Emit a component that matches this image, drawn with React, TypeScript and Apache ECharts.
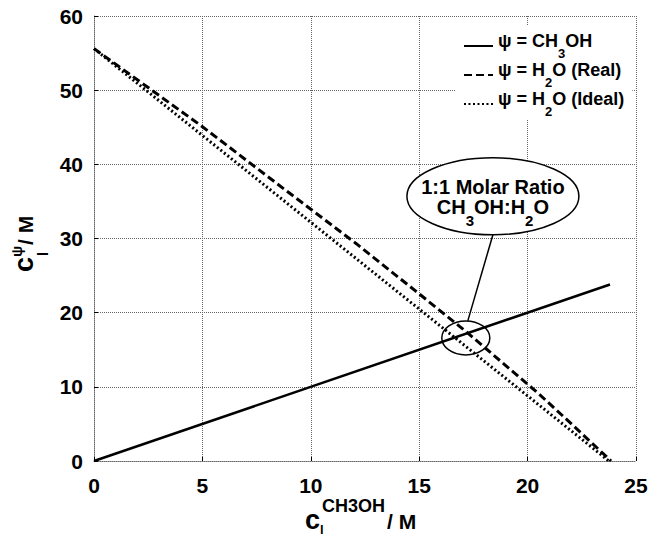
import React, { useEffect, useRef } from 'react';
import * as echarts from 'echarts';

const FONT = '"Liberation Sans", Arial, Helvetica, sans-serif';

// axis ticks
const xTicks = [0, 5, 10, 15, 20, 25];
const yTicks = [0, 10, 20, 30, 40, 50, 60];

// series values (concentrations in M)
const methanolX = [0, 23.8];
const methanolY = [0, 23.8];
const waterRealX = [0, 4.9, 8.8, 12.1, 14.8, 17.1, 18.9, 20.5, 21.8, 22.9, 23.85];
const waterRealY = [55.6, 45.3, 36.6, 29.3, 23.0, 17.6, 13.1, 9.1, 5.6, 2.6, 0];
const waterIdealX = [0, 23.75];
const waterIdealY = [55.6, 0];

const seriesNames = ['CH3OH', 'H2O (Real)', 'H2O (Ideal)'];
const legendLabels: Record<string, string> = {
  'CH3OH': '{t|ψ = CH}{s|3}{t|OH}',
  'H2O (Real)': '{t|ψ = H}{s|2}{t|O (Real)}',
  'H2O (Ideal)': '{t|ψ = H}{s|2}{t|O (Ideal)}',
};
// annotation anchors (data coordinates)
const ratioPoint = [17.15, 16.6];
const calloutPoint = [18.4, 35.7];

const zip = (xs: number[], ys: number[]) => xs.map((x, i) => [x, ys[i]]);

export default function App() {
  const ref = useRef<HTMLDivElement>(null);
  useEffect(() => {
    if (!ref.current) return;
    const chart = echarts.init(ref.current, null, { renderer: 'svg' });
    const gridStyle = { color: '#666', type: [1, 1] as number[], width: 1 };
    const axisLabel = { color: '#000', fontSize: 21, fontWeight: 'bold' as const, fontFamily: FONT };
    chart.setOption({
      animation: false,
      grid: { left: 94, right: 22, top: 16, bottom: 75 },
      xAxis: {
        type: 'value', min: xTicks[0], max: xTicks[xTicks.length - 1], interval: 5,
        axisLine: { lineStyle: gridStyle },
        axisTick: { inside: true, length: 4, lineStyle: { color: '#000' } },
        splitLine: { show: true, lineStyle: gridStyle },
        axisLabel: { ...axisLabel, margin: 14 },
      },
      yAxis: {
        type: 'value', min: yTicks[0], max: yTicks[yTicks.length - 1], interval: 10,
        axisLine: { show: true, lineStyle: gridStyle },
        axisTick: { show: true, inside: true, length: 4, lineStyle: { color: '#000' } },
        splitLine: { show: true, lineStyle: gridStyle },
        axisLabel: { ...axisLabel, margin: 11 },
      },
      legend: {
        orient: 'vertical', left: 455, top: 26, itemWidth: 29, itemHeight: 14, itemGap: 1,
        backgroundColor: '#fff', padding: [6, 8, 2, 8],
        data: seriesNames,
        itemStyle: { opacity: 0 },
        formatter: (n: string) => legendLabels[n],
        textStyle: {
          rich: {
            t: { fontSize: 18, fontWeight: 'bold', fontFamily: FONT, color: '#000', lineHeight: 20, verticalAlign: 'top' },
            s: { fontSize: 13, fontWeight: 'bold', fontFamily: FONT, color: '#000', lineHeight: 28, verticalAlign: 'bottom' },
          },
        },
      },
      series: [
        { name: seriesNames[0], type: 'line', symbol: 'none', data: zip(methanolX, methanolY), lineStyle: { color: '#000', width: 2.5 }, itemStyle: { color: '#000' } },
        { name: seriesNames[1], type: 'line', symbol: 'none', data: zip(waterRealX, waterRealY), lineStyle: { color: '#000', width: 3, type: [8, 4] }, itemStyle: { color: '#000' } },
        { name: seriesNames[2], type: 'line', symbol: 'none', data: zip(waterIdealX, waterIdealY), lineStyle: { color: '#000', width: 3, type: [2, 2.5] }, itemStyle: { color: '#000' } },
      ],
    });

    const p = chart.convertToPixel({ gridIndex: 0 }, ratioPoint) as number[];
    const c = chart.convertToPixel({ gridIndex: 0 }, calloutPoint) as number[];
    const bigRx = 86, bigRy = 38.5, smallRx = 24, smallRy = 17;
    const tStyle = (text: string, size: number) => ({ text, fontSize: size, fontWeight: 'bold', fontFamily: FONT, fill: '#000' });
    chart.setOption({
      graphic: [
        { type: 'ellipse', shape: { cx: p[0], cy: p[1], rx: smallRx, ry: smallRy }, style: { fill: 'none', stroke: '#000', lineWidth: 1.5 }, z: 10 },
        { type: 'ellipse', shape: { cx: c[0], cy: c[1], rx: bigRx, ry: bigRy }, style: { fill: '#fff', stroke: '#000', lineWidth: 1.5 }, z: 10 },
        { type: 'line', shape: { x1: c[0], y1: c[1] + bigRy, x2: p[0] + 2, y2: p[1] - smallRy }, style: { stroke: '#000', lineWidth: 1.5 }, z: 10 },
        { type: 'text', x: c[0], y: c[1] - 9, z: 11, style: { ...tStyle('1:1 Molar Ratio', 20), textAlign: 'center', textVerticalAlign: 'middle' } },
        {
          type: 'text', x: c[0], y: c[1] + 16.5, z: 11,
          style: {
            text: '{t|CH}{s|3}{t|OH:H}{s|2}{t|O}', textAlign: 'center', textVerticalAlign: 'middle',
            rich: {
              t: { fontSize: 20, fontWeight: 'bold', fontFamily: FONT, fill: '#000', lineHeight: 22, verticalAlign: 'top' },
              s: { fontSize: 15, fontWeight: 'bold', fontFamily: FONT, fill: '#000', lineHeight: 31, verticalAlign: 'bottom' },
            },
          },
        },
        // x axis title
        { type: 'text', x: 305, y: 520, style: { ...tStyle('c', 27), textVerticalAlign: 'middle' } },
        { type: 'text', x: 322, y: 506, style: { ...tStyle('CH3OH', 18), textVerticalAlign: 'middle' } },
        { type: 'text', x: 320, y: 529, style: { ...tStyle('l', 13), textVerticalAlign: 'middle' } },
        { type: 'text', x: 387, y: 521, style: { ...tStyle('/ M', 21), textVerticalAlign: 'middle' } },
        // y axis title (rotated)
        {
          type: 'group', x: 24, y: 250, rotation: Math.PI / 2,
          children: [
            { type: 'text', x: -22, y: 0, style: { ...tStyle('c', 27), textVerticalAlign: 'middle' } },
            { type: 'text', x: -7, y: -8, style: { ...tStyle('ψ', 15), textVerticalAlign: 'middle' } },
            { type: 'text', x: -6, y: 18, style: { ...tStyle('l', 15), textVerticalAlign: 'middle' } },
            { type: 'text', x: 5, y: 1, style: { ...tStyle('/ M', 21), textVerticalAlign: 'middle' } },
          ],
        },
      ],
    });
    return () => chart.dispose();
  }, []);
  return <div ref={ref} style={{ width: 658, height: 536, position: 'absolute', left: 0, top: 0 }} />;
}
